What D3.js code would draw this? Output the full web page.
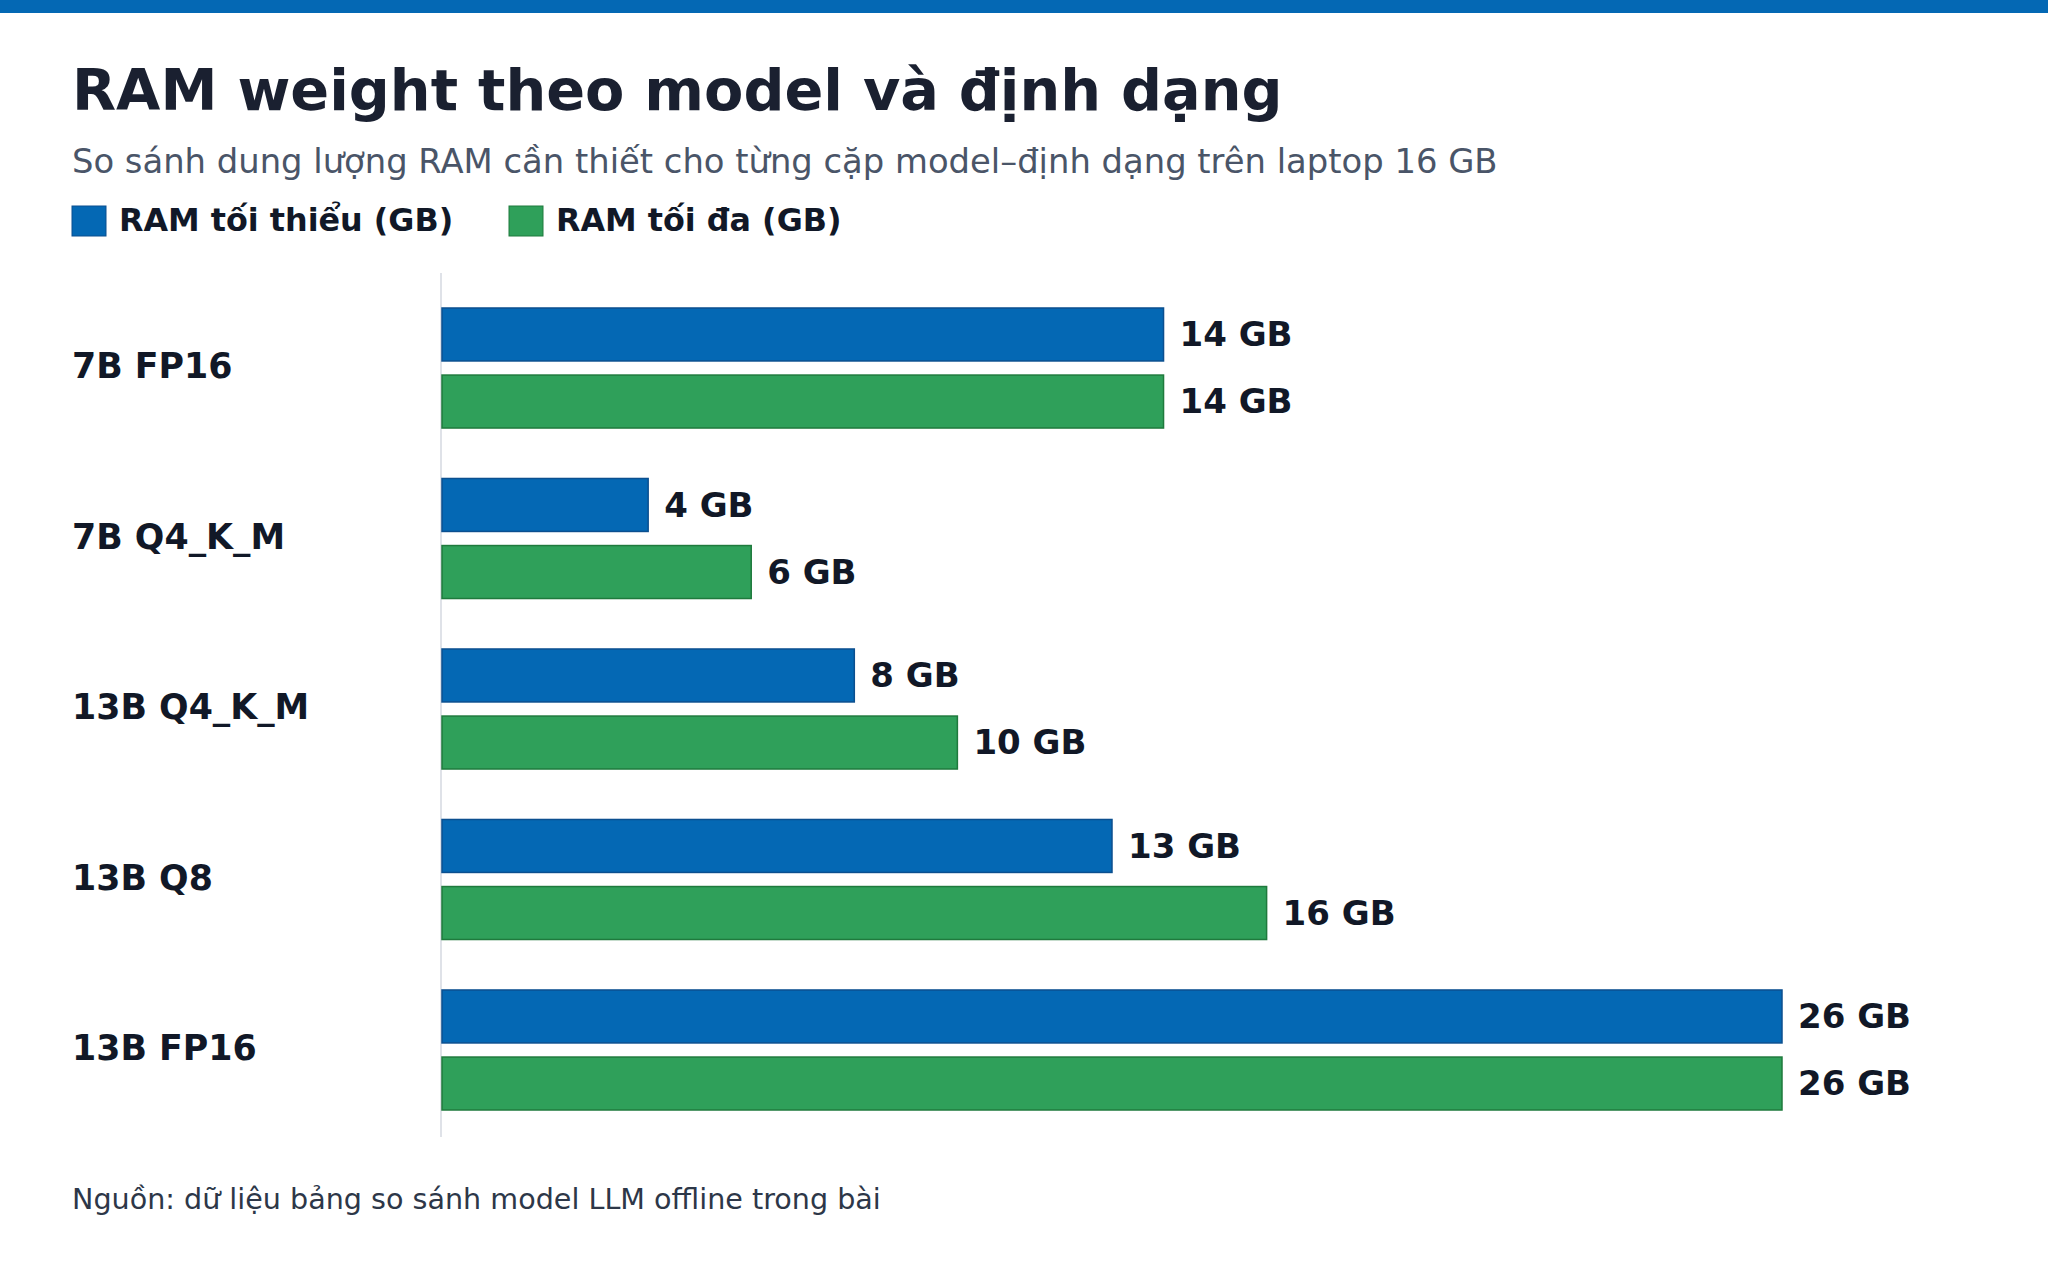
<!DOCTYPE html>
<html>
<head>
<meta charset="utf-8">
<script src="https://cdn.jsdelivr.net/npm/d3@7"></script>
<style>
  body { margin: 0; background: #fff; }
  svg { display: block; font-family: "DejaVu Sans", sans-serif; }
</style>
</head>
<body>
<svg id="chart" width="2048" height="1280"></svg>
<script>
// data
var models = ["7B FP16", "7B Q4_K_M", "13B Q4_K_M", "13B Q8", "13B FP16"];
var ramMin = [14, 4, 8, 13, 26];
var ramMax = [14, 6, 10, 16, 26];
var seriesNames = ["RAM tối thiểu (GB)", "RAM tối đa (GB)"];
var seriesColors = ["#0468b4", "#2fa05a"];
var seriesStroke = ["#0b4f8f", "#1f7a3d"];

var svg = d3.select("#chart");
var W = 2048, H = 1280;

svg.append("rect").attr("x", 0).attr("y", 0).attr("width", W).attr("height", 13).attr("fill", "#0468b4");

svg.append("text").attr("x", 72).attr("y", 110)
  .attr("font-size", 57.3).attr("font-weight", "bold").attr("fill", "#1a2030")
  .text("RAM weight theo model và định dạng");

svg.append("text").attr("x", 72).attr("y", 173)
  .attr("font-size", 33.8).attr("fill", "#4a5568")
  .text("So sánh dung lượng RAM cần thiết cho từng cặp model–định dạng trên laptop 16 GB");

// legend
var legX = [72, 509];
seriesNames.forEach(function(name, i) {
  svg.append("rect").attr("x", legX[i]).attr("y", 206).attr("width", 34).attr("height", 30)
    .attr("fill", seriesColors[i]).attr("stroke", seriesStroke[i]).attr("stroke-width", 1);
  svg.append("text").attr("x", legX[i] + 47).attr("y", 231)
    .attr("font-size", 31.8).attr("font-weight", "bold").attr("fill", "#111827")
    .text(name);
});

var rows = models.map(function(m, i) {
  return { model: m, values: [ramMin[i], ramMax[i]] };
});

var x = d3.scaleLinear().domain([0, 26]).range([442, 1782]);
var y = d3.scaleBand().domain(models).range([283, 1135]).paddingInner(0.296).paddingOuter(0.1466);
var ySub = d3.scaleBand().domain([0, 1]).range([0, y.bandwidth()]).paddingInner(0.21);

// axis line
svg.append("line").attr("x1", 441).attr("x2", 441).attr("y1", 273).attr("y2", 1137)
  .attr("stroke", "#d5d9e0").attr("stroke-width", 1.5);

// category labels
svg.append("g").selectAll("text").data(rows).enter().append("text")
  .attr("x", 72)
  .attr("y", function(d) { return y(d.model) + y.bandwidth() / 2; })
  .attr("dy", "0.29em")
  .attr("font-size", 34.8).attr("font-weight", "bold").attr("fill", "#111827")
  .text(function(d) { return d.model; });

var groups = svg.append("g").selectAll("g").data(rows).enter().append("g")
  .attr("transform", function(d) { return "translate(0," + y(d.model) + ")"; });

groups.selectAll("rect").data(function(d) { return d.values; }).enter().append("rect")
  .attr("x", x(0))
  .attr("y", function(d, i) { return ySub(i); })
  .attr("width", function(d) { return x(d) - x(0); })
  .attr("height", ySub.bandwidth())
  .attr("fill", function(d, i) { return seriesColors[i]; })
  .attr("stroke", function(d, i) { return seriesStroke[i]; })
  .attr("stroke-width", 1.5);

groups.selectAll("text").data(function(d) { return d.values; }).enter().append("text")
  .attr("x", function(d) { return x(d) + 16; })
  .attr("y", function(d, i) { return ySub(i) + ySub.bandwidth() / 2; })
  .attr("dy", "0.34em")
  .attr("font-size", 34).attr("font-weight", "bold").attr("fill", "#111827")
  .text(function(d) { return d + " GB"; });

svg.append("text").attr("x", 72).attr("y", 1209)
  .attr("font-size", 28.6).attr("fill", "#2d3748")
  .text("Nguồn: dữ liệu bảng so sánh model LLM offline trong bài");
</script>
</body>
</html>
